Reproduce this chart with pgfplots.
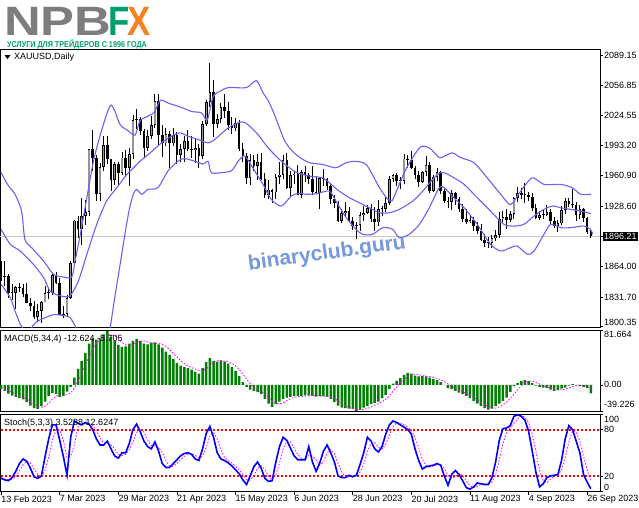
\documentclass[border=0pt]{standalone}
\usepackage{fontspec}
\setmainfont{Liberation Sans}
\usepackage{pgfplots}
\pgfplotsset{compat=1.18}
\usepackage{pgfplotstable}

\definecolor{bband}{RGB}{112,96,238}
\definecolor{macdgreen}{RGB}{0,128,0}
\definecolor{sigmag}{RGB}{255,0,255}
\definecolor{stochblue}{RGB}{0,0,255}
\definecolor{lvlred}{RGB}{255,0,0}
\definecolor{upbody}{RGB}{150,150,150}
\definecolor{logogray}{RGB}{125,125,125}
\definecolor{logogreen}{RGB}{0,158,110}
\definecolor{logoorange}{RGB}{245,130,32}
\definecolor{wmark}{RGB}{118,152,220}
\newcommand\tfont{\fontsize{9bp}{10bp}\selectfont}

% daily candles, bar index 0 = 13 Feb 2023
\pgfplotstableread{
x o h l c
0 1865 1870 1849 1853
1 1853 1870 1843 1854
2 1854 1856 1831 1836
3 1836 1846 1829 1836
4 1836 1843 1819 1842
5 1842 1847 1837 1841
6 1841 1846 1832 1835
7 1835 1847 1825 1825
8 1825 1831 1817 1822
9 1822 1827 1808 1811
10 1811 1824 1805 1817
11 1817 1828 1804 1826
12 1826 1843 1826 1836
13 1836 1841 1830 1836
14 1836 1857 1834 1855
15 1855 1858 1846 1847
16 1847 1852 1813 1813
17 1813 1822 1809 1814
18 1814 1834 1810 1831
19 1831 1870 1830 1868
20 1868 1914 1865 1913
21 1913 1918 1894 1904
22 1904 1937 1887 1918
23 1918 1935 1908 1922
24 1922 1989 1918 1989
25 1989 2009 1966 1980
26 1980 1983 1934 1941
27 1941 1974 1934 1970
28 1970 2003 1966 1993
29 1993 2003 1973 1978
30 1978 1979 1944 1956
31 1956 1975 1951 1973
32 1973 1975 1950 1964
33 1964 1986 1962 1980
34 1980 1988 1959 1969
35 1969 1990 1950 1984
36 1984 2025 1978 2020
37 2020 2032 2010 2021
38 2021 2023 2004 2008
39 2008 2010 1981 1990
40 1990 2009 1987 2003
41 2003 2024 2000 2015
42 2015 2048 2012 2040
43 2040 2048 1992 2004
44 2004 2015 1981 1995
45 1995 2012 1992 2005
46 2005 2008 1969 1995
47 1995 2012 1992 2004
48 2004 2007 1973 1983
49 1983 1994 1975 1989
50 1989 2003 1975 1998
51 1998 2009 1987 1989
52 1989 2003 1980 1988
53 1988 2000 1974 1990
54 1990 1994 1969 1982
55 1982 2019 1978 2016
56 2016 2041 2014 2039
57 2039 2081 2034 2050
58 2050 2063 2002 2016
59 2016 2026 2012 2021
60 2021 2038 2017 2034
61 2034 2048 2022 2030
62 2030 2039 2009 2015
63 2015 2023 2005 2011
64 2011 2022 2008 2017
65 2017 2020 1987 1989
66 1989 1995 1975 1982
67 1982 1985 1952 1958
68 1958 1984 1951 1977
69 1977 1983 1966 1971
70 1971 1984 1956 1975
71 1975 1985 1956 1957
72 1957 1964 1937 1940
73 1940 1956 1936 1946
74 1946 1947 1932 1943
75 1943 1963 1936 1959
76 1959 1975 1952 1962
77 1962 1983 1957 1977
78 1977 1985 1947 1948
79 1948 1966 1938 1961
80 1961 1966 1952 1963
81 1963 1972 1940 1940
82 1940 1967 1937 1965
83 1965 1971 1954 1961
84 1961 1964 1952 1957
85 1957 1971 1940 1943
86 1943 1960 1941 1942
87 1942 1959 1925 1958
88 1958 1968 1950 1957
89 1957 1958 1946 1950
90 1950 1952 1931 1936
91 1936 1940 1926 1932
92 1932 1934 1912 1913
93 1913 1925 1910 1921
94 1921 1933 1918 1923
95 1923 1927 1911 1913
96 1913 1917 1903 1907
97 1907 1911 1893 1908
98 1908 1922 1902 1919
99 1919 1929 1913 1921
100 1921 1930 1920 1926
101 1926 1931 1912 1915
102 1915 1927 1902 1911
103 1911 1935 1907 1925
104 1925 1929 1918 1925
105 1925 1938 1922 1932
106 1932 1960 1930 1957
107 1957 1963 1954 1961
108 1961 1964 1950 1955
109 1955 1959 1947 1955
110 1955 1984 1952 1979
111 1979 1983 1969 1977
112 1977 1987 1968 1969
113 1969 1971 1957 1962
114 1962 1966 1949 1954
115 1954 1966 1953 1965
116 1965 1982 1960 1972
117 1972 1975 1942 1945
118 1945 1962 1943 1959
119 1959 1969 1955 1965
120 1965 1966 1941 1944
121 1944 1947 1932 1934
122 1934 1938 1926 1933
123 1933 1946 1924 1942
124 1942 1943 1930 1936
125 1936 1938 1922 1925
126 1925 1931 1912 1915
127 1915 1925 1909 1912
128 1912 1919 1910 1914
129 1914 1917 1902 1907
130 1907 1911 1899 1902
131 1902 1909 1891 1892
132 1892 1899 1885 1889
133 1889 1896 1884 1889
134 1889 1898 1884 1894
135 1894 1903 1891 1898
136 1898 1922 1895 1915
137 1915 1923 1911 1917
138 1917 1925 1904 1914
139 1914 1923 1912 1920
140 1920 1938 1915 1937
141 1937 1949 1933 1942
142 1942 1948 1936 1940
143 1940 1953 1932 1940
144 1940 1943 1934 1938
145 1938 1942 1923 1926
146 1926 1931 1915 1916
147 1916 1923 1914 1919
148 1919 1925 1915 1919
149 1919 1930 1918 1922
150 1922 1925 1908 1913
151 1913 1917 1905 1907
152 1907 1914 1901 1910
153 1910 1928 1908 1924
154 1924 1937 1920 1934
155 1934 1937 1927 1931
156 1931 1947 1926 1930
157 1930 1933 1913 1919
158 1919 1930 1915 1925
159 1925 1926 1912 1916
160 1916 1917 1899 1901
161 1901 1903 1895 1896.21
}\candles

% MACD(5,34,4): m = histogram, s = signal
\pgfplotstableread{
x m s
0 -6 -4
1 -9 -6
2 -13 -9
3 -16 -11
4 -18 -14
5 -20 -16.75
6 -21.6 -18.9
7 -26 -21.4
8 -31 -24.7
9 -35 -28.4
10 -36 -32
11 -32 -33.5
12 -25 -32
13 -17 -27.5
14 -12 -21.5
15 -14 -17
16 -18 -15.25
17 -17 -15.25
18 -10 -14.75
19 -3 -12
20 11 -4.75
21 24 5.5
22 36 17
23 48 29.75
24 62 42.5
25 70 54
26 68 62
27 70 67.5
28 76 71
29 81.6 73.9
30 72 74.9
31 66 73.9
32 60 69.9
33 57 63.75
34 58 60.25
35 62 59.25
36 66 60.75
37 69 63.75
38 66 65.75
39 62 65.75
40 61 64.5
41 63 63
42 64 62.5
43 61 62.25
44 56 61
45 50 57.75
46 45 53
47 39 47.5
48 33 41.75
49 29 36.5
50 27 32
51 25 28.5
52 23 26
53 20 23.75
54 17 21.25
55 25 21.25
56 34 24
57 40 29
58 36 33.75
59 35 36.25
60 36 36.75
61 35 35.5
62 32 34.5
63 27 32.5
64 21 28.75
65 13 23.25
66 4 16.25
67 -3 8.75
68 -7 1.75
69 -9 -3.75
70 -11 -7.5
71 -14 -10.25
72 -21 -13.75
73 -28 -18.5
74 -33 -24
75 -29 -27.75
76 -25 -28.75
77 -21 -27
78 -19 -23.5
79 -18 -20.75
80 -17 -18.75
81 -17 -17.75
82 -16.6 -17.15
83 -15.5 -16.5
84 -15.5 -16.15
85 -16.5 -16
86 -17.5 -16.25
87 -17 -16.6
88 -17 -17
89 -18 -17.4
90 -21 -18.25
91 -26 -20.5
92 -31 -24
93 -34 -28
94 -35 -31.5
95 -35.5 -33.9
96 -36.5 -35.25
97 -39.2 -36.55
98 -37 -37.05
99 -34 -36.7
100 -32 -35.55
101 -29 -33
102 -27 -30.5
103 -25 -28.25
104 -20 -25.25
105 -15 -21.75
106 -6 -16.5
107 2 -9.75
108 6 -3.25
109 10 3
110 15 8.25
111 18 12.25
112 17 15
113 14 16
114 12.7 15.4
115 13 14.2
116 12.7 13.1
117 11 12.35
118 9 11.4
119 7 9.9
120 4 7.75
121 0 5
122 -5 1.5
123 -6.5 -1.9
124 -9 -5.1
125 -11.5 -8
126 -14 -10.25
127 -16.6 -12.8
128 -20 -15.5
129 -24 -18.65
130 -28 -22.15
131 -32 -26
132 -35 -29.75
133 -37 -33
134 -35.5 -34.9
135 -32 -34.9
136 -28 -33.1
137 -24 -29.9
138 -19 -25.75
139 -11 -20.5
140 -2 -14
141 2.6 -7.35
142 6 -1.1
143 7.1 3.4
144 6 5.4
145 2.6 5.45
146 -1 3.7
147 -3 1.15
148 -4 -1.35
149 -5 -3.25
150 -7 -4.75
151 -9 -6.25
152 -8 -7.25
153 -5.5 -7.4
154 -4 -6.6
155 -1 -4.6
156 1 -2.4
157 0 -1
158 -2 -0.5
159 -3 -1
160 -5 -2.5
161 -12.624 -5.705
}\macd

% Stochastic(5,3,3): k = main, d = signal
\pgfplotstableread{
x k d
0 17 18
1 15 16
2 14 15.3
3 18 15.7
4 26 19.3
5 36 26.7
6 42 34.7
7 39 39
8 30 37
9 19 29.3
10 17 22
11 20 18.7
12 45 27.3
13 68 44.3
14 86 66.3
15 86 80
16 66 79.3
17 45 65.7
18 21 44
19 70 45.3
20 91 60.7
21 88 83
22 86 88.3
23 89 87.7
24 87 87.3
25 80 85.3
26 68 78.3
27 60 69.3
28 60 62.7
29 65 61.7
30 55 60
31 46 55.3
32 43 48
33 50 46.3
34 50 47.7
35 62 54
36 80 64
37 87 76.3
38 77 81.3
39 65 76.3
40 58 66.7
41 55 59.3
42 64 59
43 52 57
44 36 50.7
45 31 39.7
46 31 32.7
47 36 32.7
48 41 36
49 46 41
50 49 45.3
51 50 48.3
52 48 49
53 42 46.7
54 40 43.3
55 55 45.7
56 75 56.7
57 84 71.3
58 70 76.3
59 50 68
60 42 54
61 40 44
62 37 39.7
63 33 36.7
64 28 32.7
65 23 28
66 15 22
67 9 15.7
68 20 14.7
69 32 20.3
70 38 30
71 30 33.3
72 17 28.3
73 13 20
74 14 14.7
75 38 21.7
76 58 36.7
77 70 55.3
78 66 64.7
79 56 64
80 46 56
81 41 47.7
82 41 42.7
83 41 41
84 58 46.7
85 38 45.7
86 26 40.7
87 37 33.7
88 52 38.3
89 60 49.7
90 50 54
91 38 49.3
92 20 36
93 18 25.3
94 18 18.7
95 21 19
96 19 19.3
97 21 20.3
98 35 25
99 50 35.3
100 70 51.7
101 65 61.7
102 55 63.3
103 51 57
104 58 54.7
105 74 61
106 86 72.7
107 91 83.7
108 89 88.7
109 86 88.7
110 83 86
111 80 83
112 74 79
113 55 69.7
114 40 56.3
115 29 41.3
116 32 33.7
117 33 31.3
118 34 33
119 36 34.3
120 34 34.7
121 20 30
122 8 20.7
123 22 16.7
124 27 19
125 22 23.7
126 14 21
127 5 13.7
128 3 7.3
129 6 4.7
130 11 6.7
131 10 9
132 9 10
133 9 9.3
134 18 12
135 38 21.7
136 66 40.7
137 81 61.7
138 82 76.3
139 85 82.7
140 97 88
141 99 93.7
142 97 97.7
143 92 96
144 78 89
145 52 74
146 25 51.7
147 6 27.7
148 10 13.7
149 18 11.3
150 20 16
151 21 19.7
152 22 21
153 40 27.7
154 68 43.3
155 85 64.3
156 80 77.7
157 65 76.7
158 50 65
159 22 45.7
160 12 28
161 3.5238 12.6247
}\stoch

\pgfplotsset{
  panel/.style={
    scale only axis, width=600bp,
    xmin=-0.3, xmax=163.5,
    axis line style={line width=0.7bp},
    ytick pos=right, yticklabel pos=right,
    tick align=outside, major tick length=3bp,
    tick style={black, line width=0.6bp},
    yticklabel style={anchor=west, font=\tfont, inner sep=1bp},
  },
  candle/.style={draw=none, mark=none,
    error bars/.cd, y dir=plus, y explicit, error mark=none},
  level/.style={draw=lvlred, line width=1.1bp, dash pattern=on 2bp off 2bp},
}

\begin{document}
\begin{tikzpicture}
\path[use as bounding box] (0,0) rectangle (639bp,-508bp);

% logo
\node[anchor=base west, inner sep=0, text depth=0pt, text=logogray, xscale=1.24,
  font=\fontsize{41bp}{41bp}\selectfont\bfseries] at (4bp,-35bp) {NPB};
\node[anchor=base west, inner sep=0, text depth=0pt, text=logogreen, xscale=0.85,
  font=\fontsize{41bp}{41bp}\selectfont\bfseries] at (108bp,-35bp) {F};
\node[anchor=base west, inner sep=0, text depth=0pt, text=logoorange, xscale=0.85,
  font=\fontsize{41bp}{41bp}\selectfont\bfseries] at (127bp,-35bp) {X};
\node[anchor=base west, inner sep=0, text=logogreen, xscale=0.85,
  font=\fontsize{8.5bp}{9bp}\selectfont\bfseries] at (7bp,-47.5bp)
  {УСЛУГИ ДЛЯ ТРЕЙДЕРОВ С 1996 ГОДА};

% price panel
\begin{axis}[panel, at={(0bp,-49bp)}, anchor=north west, height=278.5bp,
  ymin=1799.3, ymax=2095.5, xtick=\empty,
  ytick={1800.35,1831.70,1864.00,1928.60,1960.90,1993.20,2024.55,2056.85,2089.15},
  yticklabels={{\raisebox{1.5bp}[0pt][0pt]{1800.35}},1831.70,1864.00,1928.60,1960.90,1993.20,2024.55,2056.85,2089.15},
  extra y ticks={1896.21}, extra y tick labels={1896.21},
  extra y tick style={yticklabel style={fill=black, text=white}},
]
\addplot[gray!45, line width=0.9bp] coordinates {(-1,1896.21) (164,1896.21)};
% wicks
\addplot[candle, error bar style={black, line width=0.9bp}]
  table[x=x, y=l, y error plus expr={\thisrow{h}-\thisrow{l}}] {\candles};
% bodies
\addplot[candle, error bar style={black, line width=2.6bp}]
  table[x=x, y expr={min(\thisrow{o},\thisrow{c})},
        y error plus expr={max(abs(\thisrow{c}-\thisrow{o}),1.1)}] {\candles};
\addplot[candle, error bar style={upbody, line width=1.2bp}]
  table[x=x, y expr={\thisrow{o}+0.9},
        y error plus expr={max(\thisrow{c}-\thisrow{o}-1.8,0)}] {\candles};
% Bollinger bands
\addplot[bband, line width=1.1bp, smooth, tension=0.45] coordinates {
(0,1964) (2,1950) (3.8,1941) (5.6,1923) (6.5,1893) (8.4,1884) (11.6,1870)
(14.3,1856) (17,1853) (19.3,1853) (20.2,1870) (21.6,1898) (23.4,1937)
(25.2,1976) (27,2003) (28.8,2026) (30,2036) (31.1,2029) (32.5,2015)
(34.5,2009) (36.6,2004) (37.9,2019) (40,2024) (41.8,2028) (43.5,2041)
(45.6,2038) (49.5,2033) (52,2029) (54.7,2027.6) (56.3,2020) (57.9,2045)
(60,2051) (62,2054.5) (67,2054.5) (69.7,2061.9) (71.5,2049) (73,2040)
(74.7,2025) (77.4,1998) (79.5,1987) (81.6,1980) (84.2,1974.5) (87.8,1972.7)
(91.4,1969.2) (94.2,1974.5) (97,1976) (99.8,1972) (103.3,1948) (105.5,1936)
(106.7,1934) (108,1945) (110.7,1969) (114.4,1991) (117,1990) (119.6,1980)
(121,1981.5) (123.2,1985) (125.5,1980) (129.1,1974.5) (132.7,1958.5)
(136.4,1941) (139.1,1930) (141.8,1944) (145,1958.5) (148.2,1951.5)
(152.8,1951.5) (155.9,1948) (158.2,1941) (161,1941)};
\addplot[bband, line width=1.1bp, smooth, tension=0.45] coordinates {
(0,1903.7) (2.5,1887.8) (5.2,1880.7) (8.8,1866.5) (11.6,1852.4) (13.4,1838)
(16.1,1833) (18.8,1833) (21.1,1848.8) (23.4,1877) (26.1,1909) (28.8,1933.8)
(31.6,1948) (34.3,1962) (36.1,1969) (37.9,1976) (40.4,1984) (43.8,1995.7)
(46.5,2002.8) (48.8,2006.3) (51,2002.8) (53.8,1999.2) (56.5,1995.7)
(58.3,1999.2) (62,2011.6) (65.6,2018) (67.4,2015) (70.1,2004.6) (72.9,1990.4)
(76.5,1976.2) (80.3,1965) (84.2,1960.3) (87.8,1958.5) (89.6,1953.2)
(92.3,1944.4) (95.1,1937.3) (97.8,1932) (100.5,1926.7) (103.3,1921.4)
(106,1921.4) (108.7,1924.9) (112.4,1933.8) (115.1,1944.4) (117.8,1956.8)
(119.8,1964) (121.5,1963) (123.6,1958.5) (126.4,1951.5) (130,1937.3)
(133.6,1923.2) (137.3,1909) (140,1907.2) (142.7,1909) (145.5,1917.9)
(148.2,1924.9) (150.5,1928.5) (152.8,1926.7) (155.5,1924.9) (158.2,1923.2)
(161,1920.5)};
\addplot[bband, line width=1.1bp, smooth, tension=0.45] coordinates {
(0,1845.3) (2.5,1831) (3.8,1817) (5.2,1803) (6.5,1796) (7.5,1794) (8.8,1802)
(10,1806) (11.6,1809) (14.3,1813) (17,1812) (18.8,1810) (20.2,1801)
(21.5,1790) (23,1776) (25,1766) (27,1765) (28.5,1778) (29.7,1797.5)
(31.1,1833) (32.5,1866.5) (33.8,1898.4) (35,1925) (36.1,1941) (37,1946.2)
(38.4,1941) (40.1,1946.2) (42.8,1948) (45.6,1966) (48.3,1976.2) (50.1,1979)
(53.8,1975) (55.1,1973) (56.5,1976) (57.4,1964) (60.1,1964) (62.9,1966)
(64.7,1976.2) (66.3,1982) (67.3,1978) (69.2,1966) (71.5,1951.5) (73.8,1935.5)
(76.5,1928.5) (79.2,1939) (81.1,1942) (83.2,1941) (86,1941.5) (89.6,1944.4)
(91.4,1933.8) (94.2,1916.1) (96.9,1903.7) (98.7,1898.4) (101.4,1898.4)
(104.2,1905.5) (106.9,1903.7) (108.7,1894.8) (111.4,1898.4) (114.2,1909)
(116.9,1926.7) (119.6,1948) (121,1948) (123.6,1937.3) (126.4,1926.7)
(130,1909) (133.6,1887.8) (136.4,1880.7) (139.1,1884.2) (140.9,1886)
(143.7,1877.1) (145.5,1880.7) (148.2,1898.4) (150,1909) (152.8,1905.5)
(155.5,1905.5) (159.1,1907.2) (160.9,1903.7) (161.5,1898.4)};
\end{axis}

% MACD panel
\begin{axis}[panel, at={(0bp,-330.5bp)}, anchor=north west, height=80.5bp,
  ymin=-39.226, ymax=81.664, xtick=\empty,
  ytick={-39.226,0,81.664},
  yticklabels={{\raisebox{3.5bp}[0pt][0pt]{-39.226}},0.00,{\raisebox{-7bp}[0pt][0pt]{81.664}}},
]
\addplot[ybar, bar width=2.5bp, bar shift=0pt, fill=macdgreen, draw=none]
  table[x=x, y=m] {\macd};
\addplot[sigmag, line width=0.8bp, dash pattern=on 1.6bp off 1.6bp]
  table[x=x, y=s] {\macd};
\end{axis}

% Stochastic panel
\begin{axis}[panel, at={(0bp,-414bp)}, anchor=north west, height=77.5bp,
  ymin=0, ymax=100,
  ytick={0,20,80,100},
  yticklabels={{\raisebox{1.5bp}[0pt][0pt]{0}},20,80,{\raisebox{-8.5bp}[0pt][0pt]{100}}},
  xtick={0,16,...,160}, xtick pos=bottom,
  xticklabels={13 Feb 2023,7 Mar 2023,29 Mar 2023,21 Apr 2023,15 May 2023,
    6 Jun 2023,28 Jun 2023,20 Jul 2023,11 Aug 2023,4 Sep 2023,26 Sep 2023},
  xticklabel style={anchor=north west, font=\tfont, inner sep=1bp, xshift=-1bp},
]
\addplot[level] coordinates {(-1,20) (164,20)};
\addplot[level] coordinates {(-1,79.4) (164,79.4)};
\addplot[sigmag, line width=0.8bp, dash pattern=on 1.6bp off 1.6bp]
  table[x=x, y=d] {\stoch};
\addplot[stochblue, line width=1.6bp] table[x=x, y=k] {\stoch};
\end{axis}

% panel captions and watermark
\fill (4.5bp,-55bp) -- (10.5bp,-55bp) -- (7.5bp,-59bp) -- cycle;
\node[anchor=west, inner sep=0, font=\tfont] at (14bp,-57bp) {XAUUSD,Daily};
\node[anchor=west, inner sep=0, font=\tfont] at (4bp,-339bp) {MACD(5,34,4) -12.624 -5.705};
\node[anchor=west, inner sep=0, font=\tfont] at (4bp,-423bp) {Stoch(5,3,3) 3.5238 12.6247};
\node[rotate=8, text=wmark, inner sep=0,
  font=\fontsize{21bp}{22bp}\selectfont\bfseries] at (327bp,-254bp) {binaryclub.guru};
\end{tikzpicture}
\end{document}
